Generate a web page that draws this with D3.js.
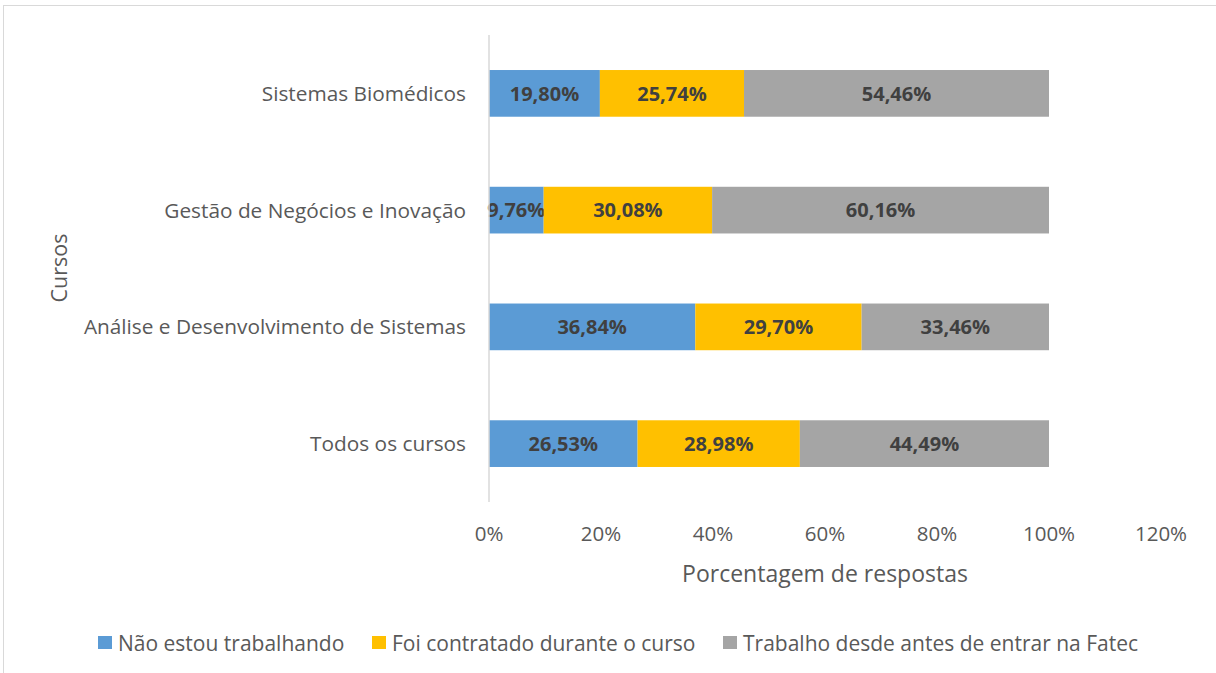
<!DOCTYPE html>
<html>
<head>
<meta charset="utf-8">
<script src="https://cdn.jsdelivr.net/npm/d3@7"></script>
<style>
  body { margin: 0; background: #fff; }
  svg { display: block; font-family: "Open Sans", "Noto Sans", sans-serif; }
</style>
</head>
<body>
<svg id="chart" width="1216" height="673"></svg>
<script>
// courses, top to bottom
var cursos = ["Sistemas Biomédicos", "Gestão de Negócios e Inovação",
              "Análise e Desenvolvimento de Sistemas", "Todos os cursos"];
var series = ["Não estou trabalhando", "Foi contratado durante o curso",
              "Trabalho desde antes de entrar na Fatec"];
var naoTrabalha = [19.80, 9.76, 36.84, 26.53];
var contratado  = [25.74, 30.08, 29.70, 28.98];
var desdeAntes  = [54.46, 60.16, 33.46, 44.49];
var xTicks = [0, 20, 40, 60, 80, 100, 120];
var colors = ["#5B9BD5", "#FFC000", "#A5A5A5"];

var svg = d3.select("#chart");

// outer chart border
svg.append("rect")
    .attr("x", 3.5).attr("y", 5.5)
    .attr("width", 1230).attr("height", 700)
    .attr("fill", "none")
    .attr("stroke", "#D9D9D9");

var x = d3.scaleLinear().domain([0, 120]).range([489, 1161]);
var y = d3.scaleBand().domain(cursos).range([35, 502]).paddingInner(0.6).paddingOuter(0.3);

var rows = cursos.map(function(c, i) {
    return { curso: c, vals: [naoTrabalha[i], contratado[i], desdeAntes[i]] };
});

var fmt = function(v) { return v.toFixed(2).replace(".", ",") + "%"; };

// bars + data labels
rows.forEach(function(r) {
    var start = 0;
    r.vals.forEach(function(v, j) {
        svg.append("rect")
            .attr("x", x(start))
            .attr("y", y(r.curso))
            .attr("width", x(start + v) - x(start))
            .attr("height", y.bandwidth())
            .attr("fill", colors[j]);
        svg.append("text")
            .attr("x", x(start + v / 2))
            .attr("y", y(r.curso) + y.bandwidth() / 2)
            .attr("dy", "0.36em")
            .attr("text-anchor", "middle")
            .attr("font-size", 20)
            .attr("font-weight", "bold")
            .attr("fill", "#404040")
            .text(fmt(v));
        start += v;
    });
});

// vertical axis line
svg.append("line")
    .attr("x1", x(0)).attr("x2", x(0))
    .attr("y1", 35).attr("y2", 502)
    .attr("stroke", "#D9D9D9").attr("stroke-width", 1.5);

// category labels
svg.selectAll(".cat")
    .data(cursos).enter().append("text")
    .attr("class", "cat")
    .attr("x", 466)
    .attr("y", function(d) { return y(d) + y.bandwidth() / 2; })
    .attr("dy", "0.36em")
    .attr("text-anchor", "end")
    .attr("font-size", 20.8)
    .attr("fill", "#595959")
    .text(function(d) { return d; });

// x tick labels
svg.selectAll(".tick")
    .data(xTicks).enter().append("text")
    .attr("class", "tick")
    .attr("x", function(d) { return x(d); })
    .attr("y", 541)
    .attr("text-anchor", "middle")
    .attr("font-size", 20.5)
    .attr("fill", "#595959")
    .text(function(d) { return d + "%"; });

// axis titles
svg.append("text")
    .attr("x", 825).attr("y", 582)
    .attr("text-anchor", "middle")
    .attr("font-size", 23)
    .attr("fill", "#595959")
    .text("Porcentagem de respostas");

svg.append("text")
    .attr("transform", "translate(67,268) rotate(-90)")
    .attr("text-anchor", "middle")
    .attr("font-size", 21.5)
    .attr("fill", "#595959")
    .text("Cursos");

// legend
var legX = [98, 372, 723];
var legend = svg.selectAll(".leg")
    .data(series).enter().append("g")
    .attr("class", "leg")
    .attr("transform", function(d, i) { return "translate(" + legX[i] + ",643)"; });

legend.append("rect")
    .attr("x", 0).attr("y", -7)
    .attr("width", 14).attr("height", 13)
    .attr("fill", function(d, i) { return colors[i]; });

legend.append("text")
    .attr("x", 20)
    .attr("dy", "0.36em")
    .attr("font-size", 21)
    .attr("fill", "#595959")
    .text(function(d) { return d; });
</script>
</body>
</html>
